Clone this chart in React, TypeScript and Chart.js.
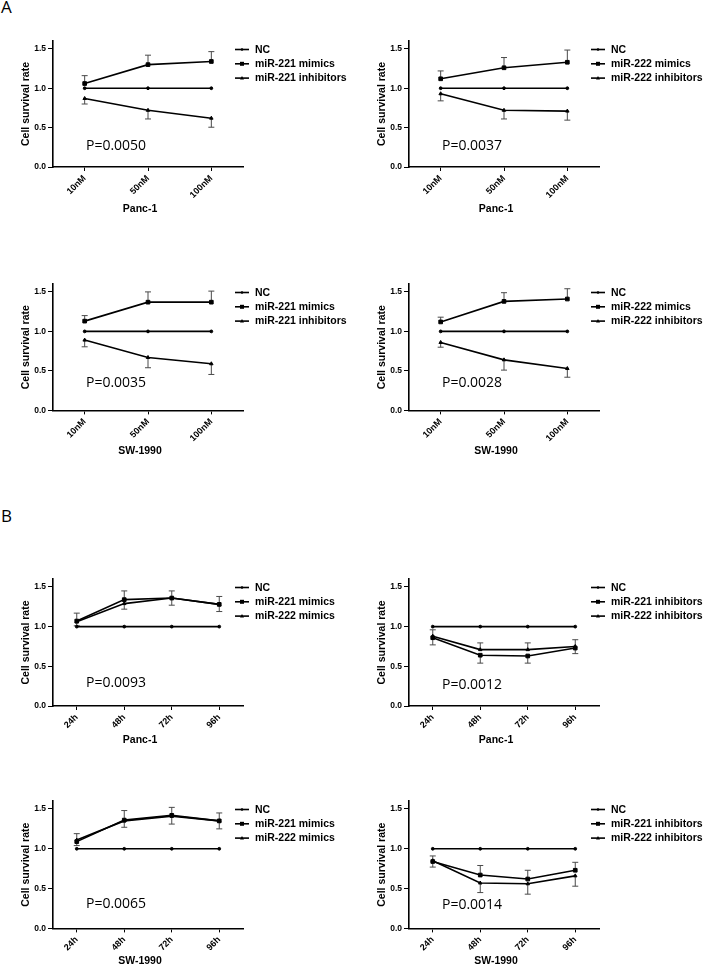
import React, { useEffect, useRef } from 'react';
import { Chart, registerables } from 'chart.js';

Chart.register(...registerables);

// ---------- data ----------
const doseLabels = ['10nM', '50nM', '100nM'];
const timeLabels = ['24h', '48h', '72h', '96h'];
const yTickValues = [0, 0.5, 1.0, 1.5];
const yMax = 1.6;

const ncDose = [1, 1, 1];
const ncTime = [1, 1, 1, 1];

// A: Panc-1, miR-221
const a1Mimics = [1.06, 1.30, 1.34];
const a1MimicsErr = [0.10, 0.12, 0.125];
const a1Inhib = [0.87, 0.72, 0.62];
const a1InhibErr = [0.07, 0.11, 0.115];
const a1P = 'P=0.0050';

// A: Panc-1, miR-222
const a2Mimics = [1.12, 1.26, 1.33];
const a2MimicsErr = [0.10, 0.13, 0.155];
const a2Inhib = [0.93, 0.72, 0.71];
const a2InhibErr = [0.09, 0.11, 0.115];
const a2P = 'P=0.0037';

// A: SW-1990, miR-221
const a3Mimics = [1.13, 1.37, 1.37];
const a3MimicsErr = [0.07, 0.13, 0.14];
const a3Inhib = [0.89, 0.67, 0.59];
const a3InhibErr = [0.085, 0.13, 0.135];
const a3P = 'P=0.0035';

// A: SW-1990, miR-222
const a4Mimics = [1.12, 1.38, 1.41];
const a4MimicsErr = [0.06, 0.11, 0.13];
const a4Inhib = [0.86, 0.64, 0.53];
const a4InhibErr = [0.06, 0.13, 0.11];
const a4P = 'P=0.0028';

// B: Panc-1 mimics
const b1Mimics221 = [1.07, 1.34, 1.36, 1.28];
const b1Mimics221Err = [0.10, 0.11, 0.09, 0.10];
const b1Mimics222 = [1.06, 1.29, 1.36, 1.28];
const b1Mimics222Err = [0.05, 0.07, 0.09, 0.09];
const b1P = 'P=0.0093';

// B: Panc-1 inhibitors
const b2Inhib221 = [0.86, 0.64, 0.63, 0.73];
const b2Inhib221Err = [0.09, 0.10, 0.09, 0.07];
const b2Inhib222 = [0.88, 0.71, 0.71, 0.75];
const b2Inhib222Err = [0.08, 0.085, 0.085, 0.085];
const b2P = 'P=0.0012';

// B: SW-1990 mimics
const b3Mimics221 = [1.09, 1.36, 1.42, 1.35];
const b3Mimics221Err = [0.10, 0.12, 0.10, 0.10];
const b3Mimics222 = [1.11, 1.35, 1.41, 1.35];
const b3Mimics222Err = [0.07, 0.08, 0.10, 0.10];
const b3P = 'P=0.0065';

// B: SW-1990 inhibitors
const b4Inhib221 = [0.84, 0.67, 0.62, 0.73];
const b4Inhib221Err = [0.07, 0.12, 0.11, 0.10];
const b4Inhib222 = [0.85, 0.57, 0.56, 0.66];
const b4Inhib222Err = [0.08, 0.12, 0.13, 0.13];
const b4P = 'P=0.0014';

const AXIS_FONT = '"Liberation Sans", Arial, sans-serif';

function drawMarker(ctx: CanvasRenderingContext2D, marker: string, x: number, y: number) {
  ctx.beginPath();
  if (marker === 'square') {
    ctx.rect(x - 2, y - 2, 4, 4);
  } else if (marker === 'triangle') {
    ctx.moveTo(x, y - 2);
    ctx.lineTo(x + 2, y + 1.5);
    ctx.lineTo(x - 2, y + 1.5);
    ctx.closePath();
  } else {
    ctx.arc(x, y, 1.3, 0, Math.PI * 2);
  }
  ctx.fill();
}

const markerStyle: Record<string, string> = { dot: 'circle', square: 'rect', triangle: 'triangle' };
const markerRadius: Record<string, number> = { dot: 1.4, square: 2.6, triangle: 2 };

const errorBarPlugin = {
  id: 'errorBars',
  beforeDatasetsDraw(chart: any) {
    const { ctx } = chart;
    const y = chart.scales.y;
    ctx.save();
    ctx.strokeStyle = '#4a4a4a';
    ctx.lineWidth = 1;
    chart.data.datasets.forEach((ds: any, i: number) => {
      const meta = chart.getDatasetMeta(i);
      meta.data.forEach((pt: any, j: number) => {
        const v = ds.data[j];
        const up = ds.errUp ? ds.errUp[j] : 0;
        const dn = ds.errDown ? ds.errDown[j] : 0;
        const x = pt.x;
        const bar = (end: number) => {
          const y0 = y.getPixelForValue(v);
          const y1 = y.getPixelForValue(end);
          ctx.beginPath();
          ctx.moveTo(x, y0);
          ctx.lineTo(x, y1);
          ctx.moveTo(x - 3, y1);
          ctx.lineTo(x + 3, y1);
          ctx.stroke();
        };
        if (up > 0) bar(v + up);
        if (dn > 0) bar(v - dn);
      });
    });
    ctx.restore();
  },
};

const legendPlugin = {
  id: 'sideLegend',
  afterDraw(chart: any) {
    const { ctx, chartArea } = chart;
    const x0 = chartArea.right - 8;
    ctx.save();
    ctx.font = `bold 10.5px ${AXIS_FONT}`;
    ctx.textBaseline = 'middle';
    ctx.textAlign = 'left';
    ctx.fillStyle = '#000';
    ctx.strokeStyle = '#000';
    chart.data.datasets.forEach((ds: any, i: number) => {
      const yy = chartArea.top + 8.5 + i * 14.3;
      ctx.lineWidth = 1.6;
      ctx.beginPath();
      ctx.moveTo(x0, yy);
      ctx.lineTo(x0 + 14, yy);
      ctx.stroke();
      drawMarker(ctx, ds.marker, x0 + 7, yy);
      ctx.fillText(ds.label, x0 + 20, yy + 0.5);
    });
    ctx.restore();
  },
};

type Series = { label: string; data: number[]; marker: string; errUp?: number[]; errDown?: number[] };
type PanelCfg = {
  labels: string[];
  series: Series[];
  xTitle: string;
  pText: string;
  pLevel: number;
  col: number;
  top: number;
  height: number;
  xAxisH: number;
};

function Panel({ cfg }: { cfg: PanelCfg }) {
  const ref = useRef<HTMLCanvasElement>(null);
  useEffect(() => {
    const padL = cfg.col === 0 ? 20 : 24;
    const padR = cfg.col === 0 ? 109 : 105;
    const textPlugin = {
      id: 'panelText',
      afterDraw(chart: any) {
        const { ctx, chartArea } = chart;
        ctx.save();
        ctx.font = '14px "Open Sans", "Liberation Sans", sans-serif';
        ctx.fillStyle = '#000';
        ctx.textBaseline = 'alphabetic';
        ctx.textAlign = 'left';
        ctx.fillText(cfg.pText, chartArea.left + 33, chart.scales.y.getPixelForValue(cfg.pLevel));
        // x-axis title
        const xs = chart.scales.x;
        ctx.font = `bold 10.5px ${AXIS_FONT}`;
        ctx.textAlign = 'center';
        ctx.textBaseline = 'middle';
        ctx.fillText(cfg.xTitle, (xs.left + xs.right) / 2 - 8, xs.bottom - 6.3);
        ctx.restore();
      },
    };
    const chart = new Chart(ref.current as HTMLCanvasElement, {
      type: 'line',
      data: {
        labels: cfg.labels,
        datasets: cfg.series.map((s) => ({
          label: s.label,
          data: s.data,
          errUp: s.errUp,
          errDown: s.errDown,
          marker: s.marker,
          borderColor: '#000',
          backgroundColor: '#000',
          borderWidth: 1.6,
          tension: 0,
          pointStyle: markerStyle[s.marker],
          pointRadius: markerRadius[s.marker],
          pointBackgroundColor: '#000',
          pointBorderColor: '#000',
          pointBorderWidth: 1,
        })) as any,
      },
      options: {
        animation: false,
        responsive: false,
        devicePixelRatio: 1,
        events: [],
        layout: { padding: { left: padL, right: padR, top: 20, bottom: 0 } },
        plugins: { legend: { display: false }, tooltip: { enabled: false }, title: { display: false } },
        scales: {
          x: {
            type: 'category',
            offset: true,
            grid: { display: true, drawOnChartArea: false, drawTicks: true, tickLength: 4, color: '#000', lineWidth: 1 },
            border: { display: true, color: '#000', width: 1.6 },
            ticks: {
              autoSkip: false,
              minRotation: 45,
              maxRotation: 45,
              padding: 2,
              color: '#000',
              font: { family: AXIS_FONT, size: 9, weight: 'bold' },
            },
            title: { display: false },
            afterFit: (s: any) => {
              s.height = cfg.xAxisH;
            },
          },
          y: {
            type: 'linear',
            min: 0,
            max: yMax,
            grid: { display: true, drawOnChartArea: false, drawTicks: true, tickLength: 5, color: '#000', lineWidth: 1 },
            border: { display: true, color: '#000', width: 1.6 },
            afterBuildTicks: (s: any) => {
              s.ticks = yTickValues.map((v) => ({ value: v }));
            },
            ticks: {
              padding: 2,
              color: '#000',
              font: { family: AXIS_FONT, size: 8.5, weight: 'bold' },
              callback: (v: any) => Number(v).toFixed(1),
            },
            title: {
              display: true,
              text: 'Cell survival rate',
              color: '#000',
              padding: 0,
              font: { family: AXIS_FONT, size: 10.5, weight: 'bold' },
            },
            afterFit: (s: any) => {
              s.width = 33;
            },
          },
        },
      } as any,
      plugins: [errorBarPlugin, legendPlugin, textPlugin],
    });
    return () => chart.destroy();
  }, []);
  return (
    <canvas
      ref={ref}
      width={352}
      height={cfg.height}
      style={{ position: 'absolute', left: cfg.col * 352, top: cfg.top, width: 352, height: cfg.height }}
    />
  );
}

const rowA1 = { top: 21, height: 194, xAxisH: 48 };
const rowA2 = { top: 264, height: 193, xAxisH: 46.6 };
const rowB1 = { top: 559, height: 187, xAxisH: 40 };
const rowB2 = { top: 781, height: 186, xAxisH: 38.6 };

const panels: PanelCfg[] = [
  {
    labels: doseLabels, xTitle: 'Panc-1', pText: a1P, pLevel: 0.21, col: 0, ...rowA1,
    series: [
      { label: 'NC', data: ncDose, marker: 'dot' },
      { label: 'miR-221 mimics', data: a1Mimics, marker: 'square', errUp: a1MimicsErr },
      { label: 'miR-221 inhibitors', data: a1Inhib, marker: 'triangle', errDown: a1InhibErr },
    ],
  },
  {
    labels: doseLabels, xTitle: 'Panc-1', pText: a2P, pLevel: 0.22, col: 1, ...rowA1,
    series: [
      { label: 'NC', data: ncDose, marker: 'dot' },
      { label: 'miR-222 mimics', data: a2Mimics, marker: 'square', errUp: a2MimicsErr },
      { label: 'miR-222 inhibitors', data: a2Inhib, marker: 'triangle', errDown: a2InhibErr },
    ],
  },
  {
    labels: doseLabels, xTitle: 'SW-1990', pText: a3P, pLevel: 0.30, col: 0, ...rowA2,
    series: [
      { label: 'NC', data: ncDose, marker: 'dot' },
      { label: 'miR-221 mimics', data: a3Mimics, marker: 'square', errUp: a3MimicsErr },
      { label: 'miR-221 inhibitors', data: a3Inhib, marker: 'triangle', errDown: a3InhibErr },
    ],
  },
  {
    labels: doseLabels, xTitle: 'SW-1990', pText: a4P, pLevel: 0.30, col: 1, ...rowA2,
    series: [
      { label: 'NC', data: ncDose, marker: 'dot' },
      { label: 'miR-222 mimics', data: a4Mimics, marker: 'square', errUp: a4MimicsErr },
      { label: 'miR-222 inhibitors', data: a4Inhib, marker: 'triangle', errDown: a4InhibErr },
    ],
  },
  {
    labels: timeLabels, xTitle: 'Panc-1', pText: b1P, pLevel: 0.24, col: 0, ...rowB1,
    series: [
      { label: 'NC', data: ncTime, marker: 'dot' },
      { label: 'miR-221 mimics', data: b1Mimics221, marker: 'square', errUp: b1Mimics221Err },
      { label: 'miR-222 mimics', data: b1Mimics222, marker: 'triangle', errDown: b1Mimics222Err },
    ],
  },
  {
    labels: timeLabels, xTitle: 'Panc-1', pText: b2P, pLevel: 0.21, col: 1, ...rowB1,
    series: [
      { label: 'NC', data: ncTime, marker: 'dot' },
      { label: 'miR-221 inhibitors', data: b2Inhib221, marker: 'square', errDown: b2Inhib221Err },
      { label: 'miR-222 inhibitors', data: b2Inhib222, marker: 'triangle', errUp: b2Inhib222Err },
    ],
  },
  {
    labels: timeLabels, xTitle: 'SW-1990', pText: b3P, pLevel: 0.25, col: 0, ...rowB2,
    series: [
      { label: 'NC', data: ncTime, marker: 'dot' },
      { label: 'miR-221 mimics', data: b3Mimics221, marker: 'square', errUp: b3Mimics221Err },
      { label: 'miR-222 mimics', data: b3Mimics222, marker: 'triangle', errDown: b3Mimics222Err },
    ],
  },
  {
    labels: timeLabels, xTitle: 'SW-1990', pText: b4P, pLevel: 0.24, col: 1, ...rowB2,
    series: [
      { label: 'NC', data: ncTime, marker: 'dot' },
      { label: 'miR-221 inhibitors', data: b4Inhib221, marker: 'square', errUp: b4Inhib221Err },
      { label: 'miR-222 inhibitors', data: b4Inhib222, marker: 'triangle', errDown: b4Inhib222Err },
    ],
  },
];

const letterStyle: React.CSSProperties = {
  position: 'absolute',
  left: 1,
  fontFamily: '"Open Sans", "Liberation Sans", sans-serif',
  fontSize: 17,
  lineHeight: '17px',
  color: '#000',
};

export default function App() {
  return (
    <div
      style={{
        position: 'absolute',
        left: 0,
        top: 0,
        width: 704,
        height: 965,
        overflow: 'hidden',
        background: '#fff',
      }}
    >
      <div style={{ ...letterStyle, top: -2 }}>A</div>
      <div style={{ ...letterStyle, top: 507 }}>B</div>
      {panels.map((p, i) => (
        <Panel key={i} cfg={p} />
      ))}
    </div>
  );
}
